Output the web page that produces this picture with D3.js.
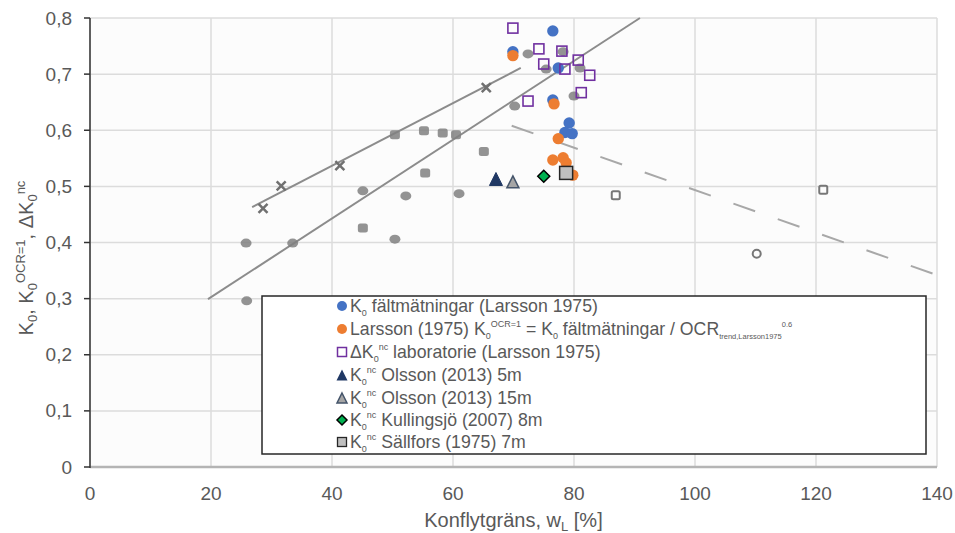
<!DOCTYPE html>
<html><head><meta charset="utf-8">
<script src="https://cdn.jsdelivr.net/npm/d3@7"></script>
<style>
html,body{margin:0;padding:0;background:#fff;}
text{font-family:"Liberation Sans Narrow","Liberation Sans",sans-serif;fill:#595959;}
</style></head>
<body>
<svg id="c" width="955" height="533"></svg>
<script>
// ---- data ----
const xTicks = [0, 20, 40, 60, 80, 100, 120, 140];
const yTicks = [0, 0.1, 0.2, 0.3, 0.4, 0.5, 0.6, 0.7, 0.8];

const k0Field = [[76.5,0.777],[69.9,0.740],[77.4,0.711],[76.5,0.654],[79.2,0.613],[78.5,0.596],[79.7,0.594]];
const larssonOCR1 = [[69.9,0.733],[76.7,0.647],[77.4,0.585],[76.5,0.547],[78.2,0.551],[78.7,0.542],[79.8,0.520]];
const deltaK0Lab = [[69.9,0.782],[74.2,0.745],[78.0,0.741],[75.0,0.718],[80.7,0.725],[78.5,0.709],[82.6,0.698],[81.2,0.667],[72.4,0.652]];
const olsson5 = [[67.1,0.512]];
const olsson15 = [[69.9,0.507]];
const kullingsjo = [[75.0,0.518]];
const sallfors = [[78.7,0.524]];

// background (scanned reference figure) markers and lines
const bgCross = [[28.6,0.461],[31.6,0.501],[41.3,0.537],[65.5,0.676]];
const bgSquare = [[50.4,0.592],[55.2,0.599],[58.3,0.595],[60.5,0.592],[65.1,0.562],[55.4,0.524],[45.1,0.426]];
const bgRound = [[45.1,0.492],[52.2,0.483],[61.0,0.487],[50.4,0.406],[25.8,0.399],[33.5,0.399],[25.9,0.296],[70.2,0.643],[72.4,0.736],[78.2,0.740],[75.4,0.709],[81.0,0.711],[80.0,0.661]];
const bgOpenSquare = [[86.9,0.484],[121.2,0.494]];
const bgOpenCircle = [[110.2,0.380]];
const bgLineUpper = [[26.8,0.463],[71.2,0.711]];
const bgLineLower = [[19.5,0.299],[90.9,0.800]];
const bgLineDashed = [[69.7,0.608],[140,0.342]];

// ---- chart ----
const svg = d3.select("#c");
const x = d3.scaleLinear().domain([0,140]).range([90,937]);
const y = d3.scaleLinear().domain([0,0.8]).range([467,18]);

svg.append("rect").attr("x",x(0)).attr("y",y(0.8)).attr("width",x(140)-x(0)).attr("height",y(0)-y(0.8)).attr("fill","#fcfcfc");

// gridlines
svg.append("g").selectAll("line").data(xTicks).join("line")
  .attr("x1",d=>x(d)).attr("x2",d=>x(d)).attr("y1",y(0.8)).attr("y2",y(0))
  .attr("stroke","#dcdcdc").attr("stroke-width",1.5);
svg.append("g").selectAll("line").data(yTicks).join("line")
  .attr("x1",x(0)).attr("x2",x(140)).attr("y1",d=>y(d)).attr("y2",d=>y(d))
  .attr("stroke","#dcdcdc").attr("stroke-width",1.5);
// scanned bottom axis line
svg.append("line").attr("x1",x(0)).attr("x2",x(140)).attr("y1",y(0)).attr("y2",y(0))
  .attr("stroke","#b4b4b4").attr("stroke-width",2.5);

// background lines
const line = d3.line().x(d=>x(d[0])).y(d=>y(d[1]));
const bgG = svg.append("g");
bgG.append("path").attr("d",line(bgLineUpper)).attr("fill","none").attr("stroke","#8c8c8c").attr("stroke-width",2);
bgG.append("path").attr("d",line(bgLineLower)).attr("fill","none").attr("stroke","#8c8c8c").attr("stroke-width",2);
bgG.append("path").attr("d",line(bgLineDashed)).attr("fill","none").attr("stroke","#a8a8a8").attr("stroke-width",2).attr("stroke-dasharray","23,24");

// background markers
bgG.selectAll(".bs").data(bgSquare).join("rect")
  .attr("x",d=>x(d[0])-5).attr("y",d=>y(d[1])-4.5).attr("width",10).attr("height",9).attr("rx",2.5)
  .attr("fill","#808080").attr("opacity",0.85);
bgG.selectAll(".br").data(bgRound).join("ellipse")
  .attr("cx",d=>x(d[0])).attr("cy",d=>y(d[1])).attr("rx",5.5).attr("ry",4.5)
  .attr("fill","#808080").attr("opacity",0.85);
bgG.selectAll(".bc").data(bgCross).join("path")
  .attr("d",d=>{const cx=x(d[0]),cy=y(d[1]);return `M${cx-4.5},${cy-4.5}L${cx+4.5},${cy+4.5}M${cx+4.5},${cy-4.5}L${cx-4.5},${cy+4.5}`;})
  .attr("stroke","#707070").attr("stroke-width",2.5).attr("fill","none");
bgG.selectAll(".bo").data(bgOpenSquare).join("rect")
  .attr("x",d=>x(d[0])-4).attr("y",d=>y(d[1])-4).attr("width",8).attr("height",8).attr("rx",1.5)
  .attr("fill","none").attr("stroke","#777").attr("stroke-width",2);
bgG.selectAll(".boc").data(bgOpenCircle).join("circle")
  .attr("cx",d=>x(d[0])).attr("cy",d=>y(d[1])).attr("r",4)
  .attr("fill","none").attr("stroke","#777").attr("stroke-width",2);

// left axis
svg.append("line").attr("x1",x(0)).attr("x2",x(0)).attr("y1",y(0.8)).attr("y2",y(0)+1).attr("stroke","#333").attr("stroke-width",1.5);
svg.append("g").selectAll("line").data(yTicks).join("line")
  .attr("x1",x(0)-6).attr("x2",x(0)).attr("y1",d=>y(d)).attr("y2",d=>y(d)).attr("stroke","#333").attr("stroke-width",1.5);
svg.append("g").selectAll("text").data(yTicks).join("text")
  .attr("x",x(0)-18).attr("y",d=>y(d)+6.5).attr("text-anchor","end")
  .style("font-size","19px").text(d=>d===0?"0":d3.format(".1f")(d).replace(".",","));
svg.append("g").selectAll("text").data(xTicks).join("text")
  .attr("x",d=>x(d)).attr("y",500).attr("text-anchor","middle")
  .style("font-size","19px").text(d=>d);

// x title
const xt = svg.append("text").attr("x",(x(0)+x(140))/2).attr("y",527).attr("text-anchor","middle").style("font-size","20px");
xt.append("tspan").text("Konflytgräns, w");
xt.append("tspan").attr("dy",4).style("font-size","13px").text("L");
xt.append("tspan").attr("dy",-4).text(" [%]");

// y title
const yt = svg.append("text").attr("transform","translate(33,258) rotate(-90)").attr("text-anchor","middle").style("font-size","20px");
yt.append("tspan").text("K");
yt.append("tspan").attr("dy",4).style("font-size","13px").text("0");
yt.append("tspan").attr("dy",-4).text(", K");
yt.append("tspan").attr("dy",4).style("font-size","13px").text("0");
yt.append("tspan").attr("dy",-12).style("font-size","13px").text("OCR=1");
yt.append("tspan").attr("dy",8).text(", ΔK");
yt.append("tspan").attr("dy",4).style("font-size","13px").text("0");
yt.append("tspan").attr("dy",-12).style("font-size","13px").text("nc");

// marker helpers
const tri = (cx,cy,s)=>`M${cx},${cy-s*0.55}L${cx+s/2},${cy+s*0.45}L${cx-s/2},${cy+s*0.45}Z`;
const dia = (cx,cy,s)=>`M${cx},${cy-s/2}L${cx+s/2},${cy}L${cx},${cy+s/2}L${cx-s/2},${cy}Z`;

const fg = svg.append("g");
fg.selectAll(".b").data(k0Field).join("circle").attr("cx",d=>x(d[0])).attr("cy",d=>y(d[1])).attr("r",5.7).attr("fill","#4472c4");
fg.selectAll(".o").data(larssonOCR1).join("circle").attr("cx",d=>x(d[0])).attr("cy",d=>y(d[1])).attr("r",5.7).attr("fill","#ed7d31");
fg.selectAll(".p").data(deltaK0Lab).join("rect").attr("x",d=>x(d[0])-5).attr("y",d=>y(d[1])-5).attr("width",10).attr("height",10)
  .attr("fill","none").attr("stroke","#7030a0").attr("stroke-width",1.6);
fg.selectAll(".t1").data(olsson5).join("path").attr("d",d=>tri(x(d[0]),y(d[1]),13)).attr("fill","#203864").attr("stroke","#203864").attr("stroke-width",1);
fg.selectAll(".t2").data(olsson15).join("path").attr("d",d=>tri(x(d[0]),y(d[1]),12)).attr("fill","#a5a5a5").attr("stroke","#44546a").attr("stroke-width",1.5);
fg.selectAll(".d").data(kullingsjo).join("path").attr("d",d=>dia(x(d[0]),y(d[1]),12)).attr("fill","#00b050").attr("stroke","#000").attr("stroke-width",1.5);
fg.selectAll(".s").data(sallfors).join("rect").attr("x",d=>x(d[0])-6.5).attr("y",d=>y(d[1])-6.5).attr("width",13).attr("height",13)
  .attr("fill","#bfbfbf").attr("stroke","#262626").attr("stroke-width",1.5);

// legend
const lg = svg.append("g");
lg.append("rect").attr("x",262).attr("y",296).attr("width",664).attr("height",158).attr("fill","#fff").attr("stroke","#262626").attr("stroke-width",1.5);
const rows = [306,329,352,375,398,420,442];
const mx = 342, tx = 350;
lg.append("circle").attr("cx",mx).attr("cy",rows[0]).attr("r",5).attr("fill","#4472c4");
lg.append("circle").attr("cx",mx).attr("cy",rows[1]).attr("r",5).attr("fill","#ed7d31");
lg.append("rect").attr("x",mx-4.5).attr("y",rows[2]-4.5).attr("width",9).attr("height",9).attr("fill","none").attr("stroke","#7030a0").attr("stroke-width",1.5);
lg.append("path").attr("d",tri(mx,rows[3]+0.5,11)).attr("fill","#203864");
lg.append("path").attr("d",tri(mx,rows[4]+0.5,10)).attr("fill","#a5a5a5").attr("stroke","#44546a").attr("stroke-width",1.5);
lg.append("path").attr("d",dia(mx,rows[5],10)).attr("fill","#00b050").attr("stroke","#000").attr("stroke-width",1.5);
lg.append("rect").attr("x",mx-4.5).attr("y",rows[6]-4.5).attr("width",9).attr("height",9).attr("fill","#bfbfbf").attr("stroke","#262626").attr("stroke-width",1.3);

const FS = "17.7px", SS = "9px", TS = "7.5px";
function ltext(i){ return lg.append("text").attr("x",tx).attr("y",rows[i]+6.2).style("font-size",FS); }
let t;
t = ltext(0); t.append("tspan").text("K"); t.append("tspan").attr("dy",4).style("font-size",SS).text("0"); t.append("tspan").attr("dy",-4).text(" fältmätningar (Larsson 1975)");
t = ltext(1); t.append("tspan").text("Larsson (1975) K"); t.append("tspan").attr("dy",4).style("font-size",SS).text("0");
t.append("tspan").attr("dy",-12).style("font-size",SS).text("OCR=1"); t.append("tspan").attr("dy",8).text(" = K");
t.append("tspan").attr("dy",4).style("font-size",SS).text("0"); t.append("tspan").attr("dy",-4).text(" fältmätningar / OCR");
t.append("tspan").attr("dy",4).style("font-size",TS).text("trend,Larsson1975"); t.append("tspan").attr("dy",-12).style("font-size",TS).text("0.6");
t = ltext(2); t.append("tspan").text("ΔK"); t.append("tspan").attr("dy",4).style("font-size",SS).text("0"); t.append("tspan").attr("dy",-12).style("font-size",SS).text("nc"); t.append("tspan").attr("dy",8).text(" laboratorie (Larsson 1975)");
const ncRow = (i,rest)=>{ const q=ltext(i); q.append("tspan").text("K"); q.append("tspan").attr("dy",4).style("font-size",SS).text("0"); q.append("tspan").attr("dy",-12).style("font-size",SS).text("nc"); q.append("tspan").attr("dy",8).text(rest); };
ncRow(3," Olsson (2013) 5m");
ncRow(4," Olsson (2013) 15m");
ncRow(5," Kullingsjö (2007) 8m");
ncRow(6," Sällfors (1975) 7m");
</script>
</body></html>
